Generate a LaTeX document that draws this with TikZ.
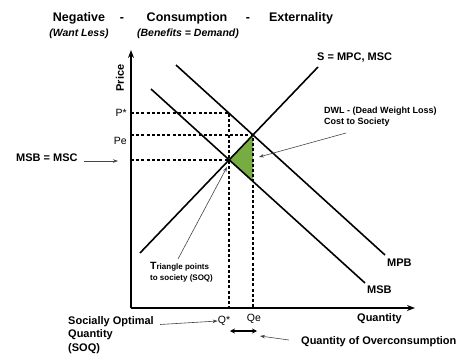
\documentclass[tikz,border=0pt]{standalone}
\usepackage{fontspec}
\setmainfont{Liberation Sans}
\usetikzlibrary{arrows.meta}
\definecolor{dwlgreen}{RGB}{118,172,66}
\definecolor{thinarrow}{RGB}{70,70,70}
\begin{document}
\begin{tikzpicture}[x=1pt,y=-1pt,
 curve/.style={line width=1.6pt},
 axisline/.style={line width=1.6pt,-{Stealth[length=8pt,width=6pt]}},
 guide/.style={line width=1.3pt,dash pattern=on 3pt off 2.2pt},
 lbl/.style={font=\fontsize{11}{13.5}\selectfont\bfseries, inner sep=0pt},
 ttl/.style={font=\fontsize{12.5}{14}\selectfont\bfseries, inner sep=0pt, anchor=base},
 sub/.style={font=\fontsize{10.5}{12}\selectfont\bfseries\itshape, inner sep=0pt, anchor=base},
 tickl/.style={font=\fontsize{10.5}{12}\selectfont, inner sep=0pt},
 small/.style={font=\fontsize{8}{11}\selectfont\bfseries, inner sep=0pt, align=left},
 pointer/.style={thinarrow, line width=0.6pt, -{Stealth[length=5pt,width=3.5pt]}},
 twoway/.style={line width=1.3pt, {Stealth[length=5pt,width=5pt]}-{Stealth[length=5pt,width=5pt]}},
]
\useasboundingbox (0,0) rectangle (474,359);
% key points
\coordinate (O) at (131,308);
\coordinate (ytop) at (131,50);
\coordinate (xend) at (415,308);
\coordinate (E1) at (229,160);
\coordinate (E2) at (253,135);
\coordinate (B) at (253,181.5);
\coordinate (Ps) at (229,113);
\coordinate (Py) at (131,113);
\coordinate (Pey) at (131,135);
\coordinate (Msy) at (131,160);
\coordinate (Qs) at (229,308);
\coordinate (Qe) at (253,308);
% triangle
\fill[dwlgreen] (E1) -- (E2) -- (B) -- cycle;
% dashed guides
\draw[guide] (Py) -- (Ps) -- (Qs);
\draw[guide] (Pey) -- (E2) -- (Qe);
\draw[guide] (Msy) -- (E1);
% curves
\coordinate (msbS) at (151,89);
\coordinate (msbE) at (365,283);
\coordinate (mpbS) at (176,65);
\coordinate (mpbE) at (385,255);
\coordinate (supS) at (140,253);
\coordinate (supE) at (318,67);
\draw[curve] (msbS) -- (msbE);
\draw[curve] (mpbS) -- (mpbE);
\draw[curve] (supS) -- (supE);
% axes
\draw[axisline] (O) -- (ytop);
\draw[axisline] (O) -- (xend);
% title
\node[ttl] (t1) at (79,21.5) {Negative};
\node[ttl] (t2) at (122,21.5) {-};
\node[ttl] (t3) at (187,21.5) {Consumption};
\node[ttl] (t4) at (248,21.5) {-};
\node[ttl] (t5) at (301,21.5) {Externality};
\node[sub] (s1) at (79,36) {(Want Less)};
\node[sub] (s2) at (188,36) {(Benefits = Demand)};
% axis labels
\node[lbl, rotate=90] (price) at (120,78) {Price};
\node[tickl, anchor=east] (pstar) at (127,113) {P*};
\node[tickl, anchor=east] (pe) at (127,141) {Pe};
\node[tickl] (qstar) at (224,321) {Q*};
\node[tickl] (qe) at (254,319) {Qe};
\node[lbl, anchor=west] (qty) at (357,319) {Quantity};
% curve labels
\node[lbl, anchor=west] (slab) at (317,58) {S = MPC, MSC};
\node[lbl, anchor=west] (mpb) at (387,263) {MPB};
\node[lbl, anchor=west] (msb) at (367,290) {MSB};
% annotations
\node[lbl, anchor=west] (msbmsc) at (16,158) {MSB = MSC};
\coordinate (mmA) at (84,161);
\coordinate (mmB) at (118,161);
\draw[pointer] (mmA) -- (mmB);
\node[font=\fontsize{9}{11}\selectfont\bfseries, inner sep=0pt, anchor=north west, align=left] (dwl) at (324,107) {DWL - (Dead Weight Loss)\\Cost to Society};
\coordinate (dwlA) at (346,133);
\coordinate (dwlB) at (259,157);
\draw[pointer] (dwlA) -- (dwlB);
\node[small, anchor=north west] (tri) at (150,262) {{\fontsize{10.5}{11}\selectfont T}riangle points\\to society (SOQ)};
\coordinate (triA) at (178,259);
\coordinate (triB) at (227,167);
\draw[pointer] (triA) -- (triB);
\node[lbl, anchor=north west, align=left] (soq) at (68,316) {Socially Optimal\\Quantity\\(SOQ)};
\coordinate (soqA) at (160,324.5);
\draw[pointer] (soqA) -- (qstar.west);
\coordinate (ovA) at (230,331);
\coordinate (ovB) at (257,331);
\draw[twoway] (ovA) -- (ovB);
\node[lbl, anchor=west] (over) at (301,342) {Quantity of Overconsumption};
\coordinate (ovP) at (289,340);
\coordinate (ovQ) at (260,336);
\draw[pointer] (ovP) -- (ovQ);
\end{tikzpicture}
\end{document}
